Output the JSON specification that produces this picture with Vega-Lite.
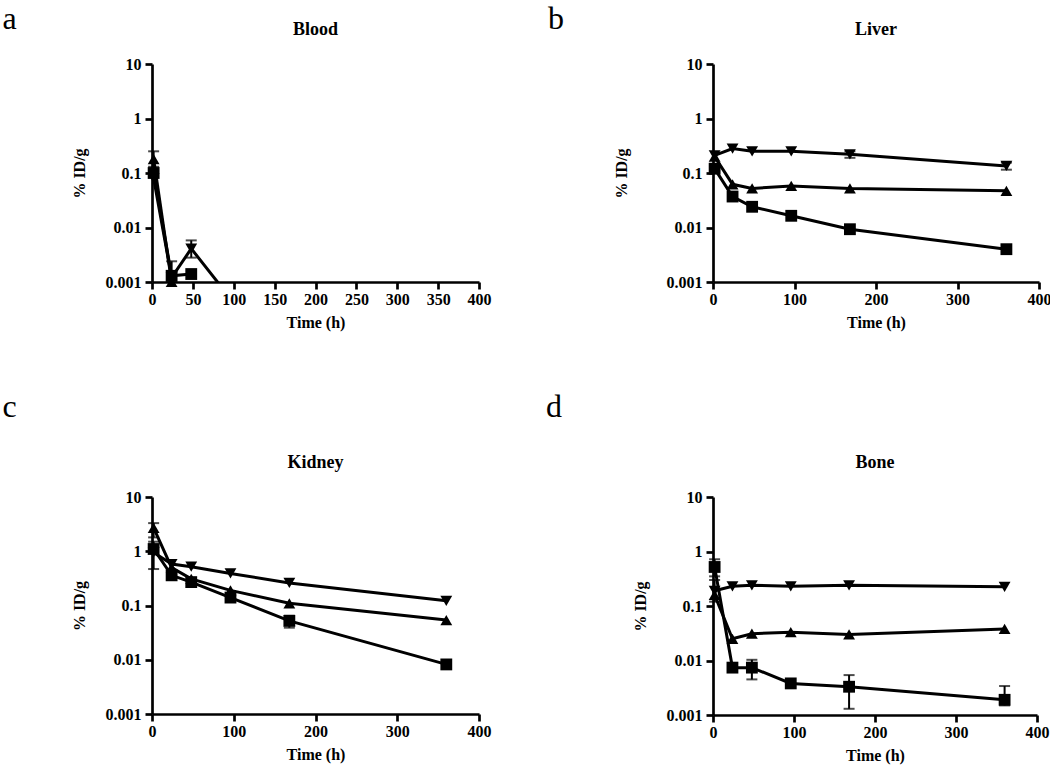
{
  "$schema": "https://vega.github.io/schema/vega-lite/v6.json",
  "background": "white",
  "padding": {"left": 2, "top": 3, "right": 5, "bottom": 5},
  "data": {"values": [
    {"panel": "Blood", "g": "sq", "t": 2, "v": 0.1},
    {"panel": "Blood", "g": "sq", "t": 24, "v": 0.0013, "lo": 0.001, "hi": 0.0024},
    {"panel": "Blood", "g": "sq", "t": 48, "v": 0.0014},
    {"panel": "Blood", "g": "up", "t": 2, "v": 0.18, "lo": 0.13, "hi": 0.25},
    {"panel": "Blood", "g": "up", "t": 24, "v": 0.001},
    {"panel": "Blood", "g": "dn", "t": 2, "v": 0.08},
    {"panel": "Blood", "g": "dn", "t": 24, "v": 0.0012},
    {"panel": "Blood", "g": "dn", "t": 48, "v": 0.0041, "lo": 0.0028, "hi": 0.0058},
    {"panel": "Blood", "g": "dn", "t": 96, "v": 0.0005},

    {"panel": "Liver", "g": "dn", "t": 2, "v": 0.21},
    {"panel": "Liver", "g": "dn", "t": 24, "v": 0.28},
    {"panel": "Liver", "g": "dn", "t": 48, "v": 0.25},
    {"panel": "Liver", "g": "dn", "t": 96, "v": 0.25},
    {"panel": "Liver", "g": "dn", "t": 168, "v": 0.22, "lo": 0.19, "hi": 0.25},
    {"panel": "Liver", "g": "dn", "t": 360, "v": 0.135, "lo": 0.115, "hi": 0.155},
    {"panel": "Liver", "g": "up", "t": 2, "v": 0.2},
    {"panel": "Liver", "g": "up", "t": 24, "v": 0.062},
    {"panel": "Liver", "g": "up", "t": 48, "v": 0.052},
    {"panel": "Liver", "g": "up", "t": 96, "v": 0.058},
    {"panel": "Liver", "g": "up", "t": 168, "v": 0.052},
    {"panel": "Liver", "g": "up", "t": 360, "v": 0.047},
    {"panel": "Liver", "g": "sq", "t": 2, "v": 0.12},
    {"panel": "Liver", "g": "sq", "t": 24, "v": 0.037},
    {"panel": "Liver", "g": "sq", "t": 48, "v": 0.024},
    {"panel": "Liver", "g": "sq", "t": 96, "v": 0.0164},
    {"panel": "Liver", "g": "sq", "t": 168, "v": 0.0093},
    {"panel": "Liver", "g": "sq", "t": 360, "v": 0.004},

    {"panel": "Kidney", "g": "up", "t": 2, "v": 2.7, "lo": 1.8, "hi": 3.3},
    {"panel": "Kidney", "g": "up", "t": 24, "v": 0.5},
    {"panel": "Kidney", "g": "up", "t": 48, "v": 0.31},
    {"panel": "Kidney", "g": "up", "t": 96, "v": 0.19},
    {"panel": "Kidney", "g": "up", "t": 168, "v": 0.11},
    {"panel": "Kidney", "g": "up", "t": 360, "v": 0.054},
    {"panel": "Kidney", "g": "dn", "t": 2, "v": 0.95},
    {"panel": "Kidney", "g": "dn", "t": 24, "v": 0.58},
    {"panel": "Kidney", "g": "dn", "t": 48, "v": 0.52},
    {"panel": "Kidney", "g": "dn", "t": 96, "v": 0.39},
    {"panel": "Kidney", "g": "dn", "t": 168, "v": 0.26},
    {"panel": "Kidney", "g": "dn", "t": 360, "v": 0.122},
    {"panel": "Kidney", "g": "sq", "t": 2, "v": 1.1, "lo": 0.47, "hi": 1.5},
    {"panel": "Kidney", "g": "sq", "t": 24, "v": 0.36},
    {"panel": "Kidney", "g": "sq", "t": 48, "v": 0.27},
    {"panel": "Kidney", "g": "sq", "t": 96, "v": 0.14},
    {"panel": "Kidney", "g": "sq", "t": 168, "v": 0.052, "lo": 0.039, "hi": 0.065},
    {"panel": "Kidney", "g": "sq", "t": 360, "v": 0.0082},

    {"panel": "Bone", "g": "dn", "t": 2, "v": 0.19},
    {"panel": "Bone", "g": "dn", "t": 24, "v": 0.23},
    {"panel": "Bone", "g": "dn", "t": 48, "v": 0.24},
    {"panel": "Bone", "g": "dn", "t": 96, "v": 0.23},
    {"panel": "Bone", "g": "dn", "t": 168, "v": 0.24},
    {"panel": "Bone", "g": "dn", "t": 360, "v": 0.225},
    {"panel": "Bone", "g": "up", "t": 2, "v": 0.16, "lo": 0.12, "hi": 0.3},
    {"panel": "Bone", "g": "up", "t": 24, "v": 0.025},
    {"panel": "Bone", "g": "up", "t": 48, "v": 0.031},
    {"panel": "Bone", "g": "up", "t": 96, "v": 0.033},
    {"panel": "Bone", "g": "up", "t": 168, "v": 0.03},
    {"panel": "Bone", "g": "up", "t": 360, "v": 0.038},
    {"panel": "Bone", "g": "sq", "t": 2, "v": 0.52, "lo": 0.35, "hi": 0.72},
    {"panel": "Bone", "g": "sq", "t": 24, "v": 0.0074},
    {"panel": "Bone", "g": "sq", "t": 48, "v": 0.0074, "lo": 0.0045, "hi": 0.0103},
    {"panel": "Bone", "g": "sq", "t": 96, "v": 0.0038},
    {"panel": "Bone", "g": "sq", "t": 168, "v": 0.0033, "lo": 0.0013, "hi": 0.0054},
    {"panel": "Bone", "g": "sq", "t": 360, "v": 0.0019, "lo": 0.0015, "hi": 0.0034}
  ]},
  "columns": 2,
  "spacing": {"row": 61, "column": 55},
  "concat": [
    {
      "title": {"text": "a", "orient": "left", "anchor": "end", "angle": 0, "baseline": "top", "align": "right", "frame": "bounds", "offset": 40, "dy": -17, "fontSize": 32, "fontWeight": "normal"},
      "vconcat": [{
        "title": {"text": "Blood"},
        "width": 327, "height": 218,
        "transform": [{"filter": "datum.panel === 'Blood'"}],
        "layer": [
          {"mark": {"type": "line", "clip": true, "strokeWidth": 3, "color": "black"},
           "encoding": {
             "x": {"field": "t", "type": "quantitative", "title": "Time (h)", "scale": {"domain": [0, 400], "nice": false}, "axis": {"values": [0, 50, 100, 150, 200, 250, 300, 350, 400]}},
             "y": {"field": "v", "type": "quantitative", "title": "% ID/g", "scale": {"type": "log", "domain": [0.001, 10], "nice": false}, "axis": {"values": [0.001, 0.01, 0.1, 1, 10], "labelExpr": "format(datum.value, '~g')"}},
             "detail": {"field": "g"}}},
          {"transform": [{"filter": "isValid(datum.lo)"}],
           "mark": {"type": "errorbar", "ticks": {"size": 11, "thickness": 2, "color": "black"}, "rule": {"strokeWidth": 2, "color": "black"}},
           "encoding": {
             "x": {"field": "t", "type": "quantitative", "title": "Time (h)"},
             "y": {"field": "lo", "type": "quantitative", "title": "% ID/g"},
             "y2": {"field": "hi"}}},
          {"transform": [{"filter": "datum.v >= 0.001"}],
           "mark": {"type": "point", "filled": true, "opacity": 1, "color": "black", "size": 140},
           "encoding": {
             "x": {"field": "t", "type": "quantitative", "title": "Time (h)"},
             "y": {"field": "v", "type": "quantitative", "title": "% ID/g"},
             "shape": {"field": "g", "type": "nominal", "legend": null, "scale": {"domain": ["sq", "up", "dn"], "range": ["square", "triangle-up", "triangle-down"]}}}}
        ]
      }]
    },
    {
      "title": {"text": "b", "orient": "left", "anchor": "end", "angle": 0, "baseline": "top", "align": "right", "frame": "bounds", "offset": 33, "dy": -17, "fontSize": 32, "fontWeight": "normal"},
      "vconcat": [{
        "title": {"text": "Liver"},
        "width": 326, "height": 218,
        "transform": [{"filter": "datum.panel === 'Liver'"}],
        "layer": [
          {"mark": {"type": "line", "clip": true, "strokeWidth": 3, "color": "black"},
           "encoding": {
             "x": {"field": "t", "type": "quantitative", "title": "Time (h)", "scale": {"domain": [0, 400], "nice": false}, "axis": {"values": [0, 100, 200, 300, 400]}},
             "y": {"field": "v", "type": "quantitative", "title": "% ID/g", "scale": {"type": "log", "domain": [0.001, 10], "nice": false}, "axis": {"values": [0.001, 0.01, 0.1, 1, 10], "labelExpr": "format(datum.value, '~g')", "titlePadding": 37}},
             "detail": {"field": "g"}}},
          {"transform": [{"filter": "isValid(datum.lo)"}],
           "mark": {"type": "errorbar", "ticks": {"size": 11, "thickness": 2, "color": "black"}, "rule": {"strokeWidth": 2, "color": "black"}},
           "encoding": {
             "x": {"field": "t", "type": "quantitative", "title": "Time (h)"},
             "y": {"field": "lo", "type": "quantitative", "title": "% ID/g"},
             "y2": {"field": "hi"}}},
          {"transform": [{"filter": "datum.v >= 0.001"}],
           "mark": {"type": "point", "filled": true, "opacity": 1, "color": "black", "size": 140},
           "encoding": {
             "x": {"field": "t", "type": "quantitative", "title": "Time (h)"},
             "y": {"field": "v", "type": "quantitative", "title": "% ID/g"},
             "shape": {"field": "g", "type": "nominal", "legend": null, "scale": {"domain": ["sq", "up", "dn"], "range": ["square", "triangle-up", "triangle-down"]}}}}
        ]
      }]
    },
    {
      "title": {"text": "c", "orient": "left", "anchor": "end", "angle": 0, "baseline": "top", "align": "right", "frame": "bounds", "offset": 40, "dy": -62, "fontSize": 32, "fontWeight": "normal"},
      "vconcat": [{
        "title": {"text": "Kidney"},
        "width": 327, "height": 217,
        "transform": [{"filter": "datum.panel === 'Kidney'"}],
        "layer": [
          {"mark": {"type": "line", "clip": true, "strokeWidth": 3, "color": "black"},
           "encoding": {
             "x": {"field": "t", "type": "quantitative", "title": "Time (h)", "scale": {"domain": [0, 400], "nice": false}, "axis": {"values": [0, 100, 200, 300, 400]}},
             "y": {"field": "v", "type": "quantitative", "title": "% ID/g", "scale": {"type": "log", "domain": [0.001, 10], "nice": false}, "axis": {"values": [0.001, 0.01, 0.1, 1, 10], "labelExpr": "format(datum.value, '~g')"}},
             "detail": {"field": "g"}}},
          {"transform": [{"filter": "isValid(datum.lo)"}],
           "mark": {"type": "errorbar", "ticks": {"size": 11, "thickness": 2, "color": "black"}, "rule": {"strokeWidth": 2, "color": "black"}},
           "encoding": {
             "x": {"field": "t", "type": "quantitative", "title": "Time (h)"},
             "y": {"field": "lo", "type": "quantitative", "title": "% ID/g"},
             "y2": {"field": "hi"}}},
          {"transform": [{"filter": "datum.v >= 0.001"}],
           "mark": {"type": "point", "filled": true, "opacity": 1, "color": "black", "size": 140},
           "encoding": {
             "x": {"field": "t", "type": "quantitative", "title": "Time (h)"},
             "y": {"field": "v", "type": "quantitative", "title": "% ID/g"},
             "shape": {"field": "g", "type": "nominal", "legend": null, "scale": {"domain": ["sq", "up", "dn"], "range": ["square", "triangle-up", "triangle-down"]}}}}
        ]
      }]
    },
    {
      "title": {"text": "d", "orient": "left", "anchor": "end", "angle": 0, "baseline": "top", "align": "right", "frame": "bounds", "offset": 54, "dy": -62, "fontSize": 32, "fontWeight": "normal"},
      "vconcat": [{
        "title": {"text": "Bone"},
        "width": 324, "height": 218,
        "transform": [{"filter": "datum.panel === 'Bone'"}],
        "layer": [
          {"mark": {"type": "line", "clip": true, "strokeWidth": 3, "color": "black"},
           "encoding": {
             "x": {"field": "t", "type": "quantitative", "title": "Time (h)", "scale": {"domain": [0, 400], "nice": false}, "axis": {"values": [0, 100, 200, 300, 400]}},
             "y": {"field": "v", "type": "quantitative", "title": "% ID/g", "scale": {"type": "log", "domain": [0.001, 10], "nice": false}, "axis": {"values": [0.001, 0.01, 0.1, 1, 10], "labelExpr": "format(datum.value, '~g')"}},
             "detail": {"field": "g"}}},
          {"transform": [{"filter": "isValid(datum.lo)"}],
           "mark": {"type": "errorbar", "ticks": {"size": 11, "thickness": 2, "color": "black"}, "rule": {"strokeWidth": 2, "color": "black"}},
           "encoding": {
             "x": {"field": "t", "type": "quantitative", "title": "Time (h)"},
             "y": {"field": "lo", "type": "quantitative", "title": "% ID/g"},
             "y2": {"field": "hi"}}},
          {"transform": [{"filter": "datum.v >= 0.001"}],
           "mark": {"type": "point", "filled": true, "opacity": 1, "color": "black", "size": 140},
           "encoding": {
             "x": {"field": "t", "type": "quantitative", "title": "Time (h)"},
             "y": {"field": "v", "type": "quantitative", "title": "% ID/g"},
             "shape": {"field": "g", "type": "nominal", "legend": null, "scale": {"domain": ["sq", "up", "dn"], "range": ["square", "triangle-up", "triangle-down"]}}}}
        ]
      }]
    }
  ],
  "config": {
    "view": {"stroke": null},
    "font": "Liberation Serif",
    "title": {"font": "Liberation Serif", "fontSize": 18, "fontWeight": "bold", "color": "black", "offset": 17},
    "axis": {
      "grid": false,
      "domainColor": "black", "domainWidth": 2.7,
      "tickColor": "black", "tickWidth": 2.7, "tickSize": 7,
      "labelFont": "Liberation Serif", "labelFontWeight": "bold", "labelFontSize": 16, "labelColor": "black", "labelPadding": 2,
      "titleFont": "Liberation Serif", "titleFontWeight": "bold", "titleFontSize": 16, "titleColor": "black"
    },
    "axisY": {"titlePadding": 18, "labelPadding": 4},
    "axisX": {"titlePadding": 7, "labelFlush": false}
  }
}
